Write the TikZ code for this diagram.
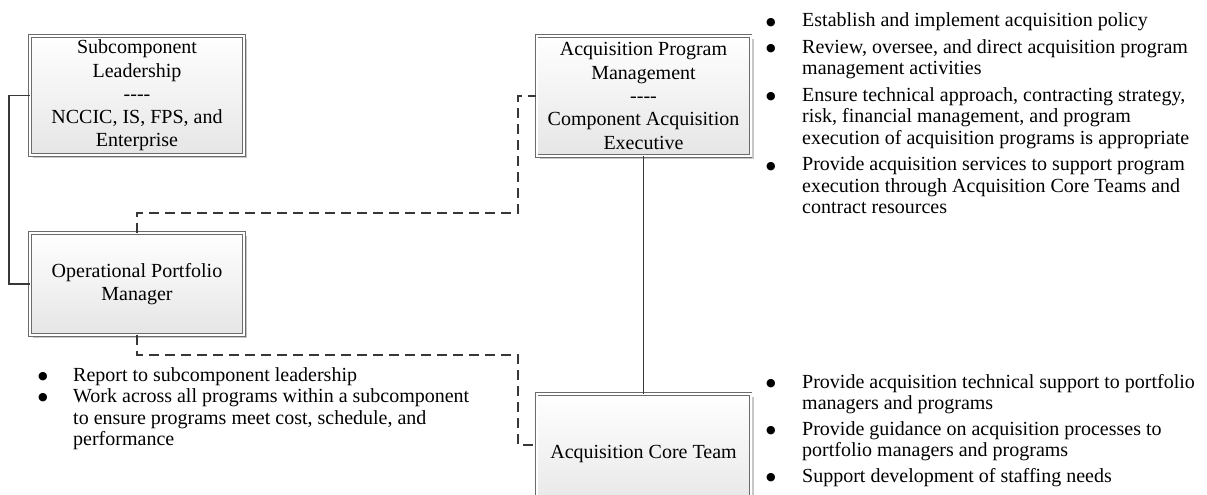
\documentclass[tikz,border=0pt]{standalone}
\usepackage{fontspec}
\setmainfont{Liberation Serif}
\newfontfamily\symfont{DejaVu Sans}
\usetikzlibrary{shadows}

\newlength{\bulw}
\newcommand{\boxfont}{\fontsize{20}{23.3}\selectfont}
\newcommand{\listfont}{\fontsize{20}{21.5}\selectfont}
\newcommand{\bulmark}{\raisebox{1.6pt}{\symfont\fontsize{11}{11}\selectfont ●}}
% one bulleted paragraph; later lines hang under the text
\newcommand{\bitem}[1]{\noindent\hangindent=\bulw\hangafter=1%
  \hbox to \bulw{\bulmark\hss}#1\par}
% a bulleted list set in a top-aligned box, so the node's base is its first line
\newcommand{\blist}[3]{\parbox[t]{432pt}{\raggedright\listfont
  \setlength{\bulw}{#1}\setlength{\parskip}{#2}#3}}
\newcommand{\sep}{-{}-{}-{}-}

\tikzset{
  orgbox/.style={draw=black!58, double=white, double distance=2pt, line width=0.9pt,
    top color=white, bottom color=black!10, align=center, font=\boxfont,
    inner sep=3pt, minimum width=214pt,
    drop shadow={shadow xshift=3pt, shadow yshift=-3pt, fill=black!22, opacity=1}},
  link/.style={draw=black!78, line width=1.4pt},
  dashlink/.style={link, dash pattern=on 10pt off 6pt},
  bullets/.style={anchor=base west, inner sep=0pt},
}

\begin{document}
\begin{tikzpicture}[x=1pt, y=-1pt]
  \path[use as bounding box, clip] (0,0) rectangle (1207,495);
  \fill[white] (0,0) rectangle (1207,495);

  % organisation boxes
  \node[orgbox, minimum height=119pt] (lead) at (137,95.5)
    {Subcomponent\\Leadership\\\sep\\NCCIC, IS, FPS, and\\Enterprise};
  \node[orgbox, minimum height=102pt] (opm) at (137,284)
    {Operational Portfolio\\Manager};
  \node[orgbox, minimum height=120pt] (apm) at (643.5,96)
    {Acquisition Program\\Management\\\sep\\Component Acquisition\\Executive};
  \node[orgbox, minimum height=120pt] (act) at (643.5,454)
    {Acquisition Core Team};

  % reporting lines
  \coordinate (l1) at (9,95.5);
  \coordinate (d1) at (137,213);
  \coordinate (d2) at (518,213);
  \coordinate (d3) at (137,355);
  \coordinate (d4) at (518,355);
  \coordinate (d5) at (518,445);

  \draw[link] (lead.west) -- (l1) |- (opm.west);
  \draw[link] (apm.south) -- (act.north);
  \draw[dashlink] (opm.north) -- (d1) -- (d2) |- (apm.west);
  \draw[dashlink] (opm.south) -- (d3) -- (d4) -- (d5) -- (act.west |- d5);

  % responsibilities
  \node[bullets] (tlist) at (766,27) {\blist{36pt}{5pt}{%
    \bitem{Establish and implement acquisition policy}
    \bitem{Review, oversee, and direct acquisition program\newline management activities}
    \bitem{Ensure technical approach, contracting strategy,\newline risk, financial management, and program\newline execution of acquisition programs is appropriate}
    \bitem{Provide acquisition services to support program\newline execution through Acquisition Core Teams and\newline contract resources}}};

  \node[bullets] (llist) at (38,381) {\blist{35pt}{0pt}{%
    \bitem{Report to subcomponent leadership}
    \bitem{Work across all programs within a subcomponent\newline to ensure programs meet cost, schedule, and\newline performance}}};

  \node[bullets] (rlist) at (766,388) {\blist{36pt}{4pt}{%
    \bitem{Provide acquisition technical support to portfolio\newline managers and programs}
    \bitem{Provide guidance on acquisition processes to\newline portfolio managers and programs}
    \bitem{Support development of staffing needs}}};
\end{tikzpicture}
\end{document}
